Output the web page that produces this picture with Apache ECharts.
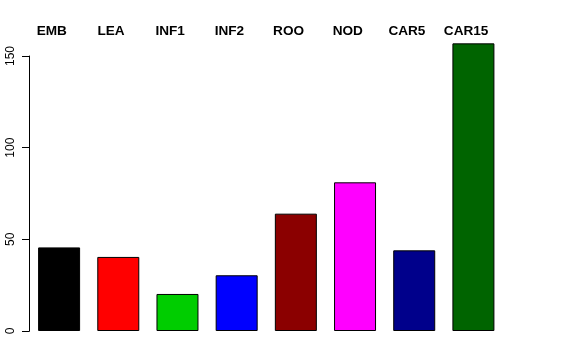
<!DOCTYPE html>
<html>
<head>
<meta charset="utf-8">
<script src="https://cdn.jsdelivr.net/npm/echarts@6/dist/echarts.min.js"></script>
<style>html,body{margin:0;padding:0;background:#fff;}#c{width:576px;height:360px;}</style>
</head>
<body>
<div id="c"></div>
<script>
var categories = ["EMB", "LEA", "INF1", "INF2", "ROO", "NOD", "CAR5", "CAR15"];
var values = [45.6, 40.4, 20.2, 30.4, 64.0, 81.1, 44.0, 156.9];
var colors = ["#000000", "#FF0000", "#00CD00", "#0000FF", "#8B0000", "#FF00FF", "#00008B", "#006400"];
var yTicks = [0, 50, 100, 150];

var chart = echarts.init(document.getElementById('c'), null, {renderer: 'canvas'});
chart.setOption({
  animation: false,
  backgroundColor: '#ffffff',
  grid: [
    {left: 29.5, width: 473.5, top: 56, bottom: 29, containLabel: false},
    {left: 22.2, width: 473.5, top: 56, height: 10, containLabel: false}
  ],
  xAxis: [{
    type: 'category',
    gridIndex: 0,
    data: categories,
    axisLine: {show: false},
    axisTick: {show: false},
    axisLabel: {show: false}
  }, {
    type: 'category',
    gridIndex: 1,
    position: 'top',
    data: categories,
    axisLine: {show: false},
    axisTick: {show: false},
    axisLabel: {
      margin: 18,
      fontFamily: 'Liberation Sans, Arial, sans-serif',
      fontWeight: 'bold',
      fontSize: 13.6,
      color: '#000'
    }
  }],
  yAxis: [{
    type: 'value',
    gridIndex: 0,
    min: yTicks[0],
    max: yTicks[yTicks.length - 1],
    interval: 50,
    splitLine: {show: false},
    axisLine: {show: true, lineStyle: {color: '#000', width: 1}},
    axisTick: {show: true, length: 7.5, lineStyle: {color: '#000'}},
    axisLabel: {
      rotate: 90,
      margin: 13,
      fontFamily: 'Liberation Sans, Arial, sans-serif',
      fontSize: 12,
      color: '#000'
    }
  }, {
    type: 'value',
    gridIndex: 1,
    show: false
  }],
  series: [{
    type: 'bar',
    xAxisIndex: 0,
    yAxisIndex: 0,
    clip: false,
    barWidth: 42,
    data: values.map(function (v, i) {
      return {value: v, itemStyle: {color: colors[i]}};
    }),
    itemStyle: {borderColor: '#000', borderWidth: 1}
  }]
});
</script>
</body>
</html>
